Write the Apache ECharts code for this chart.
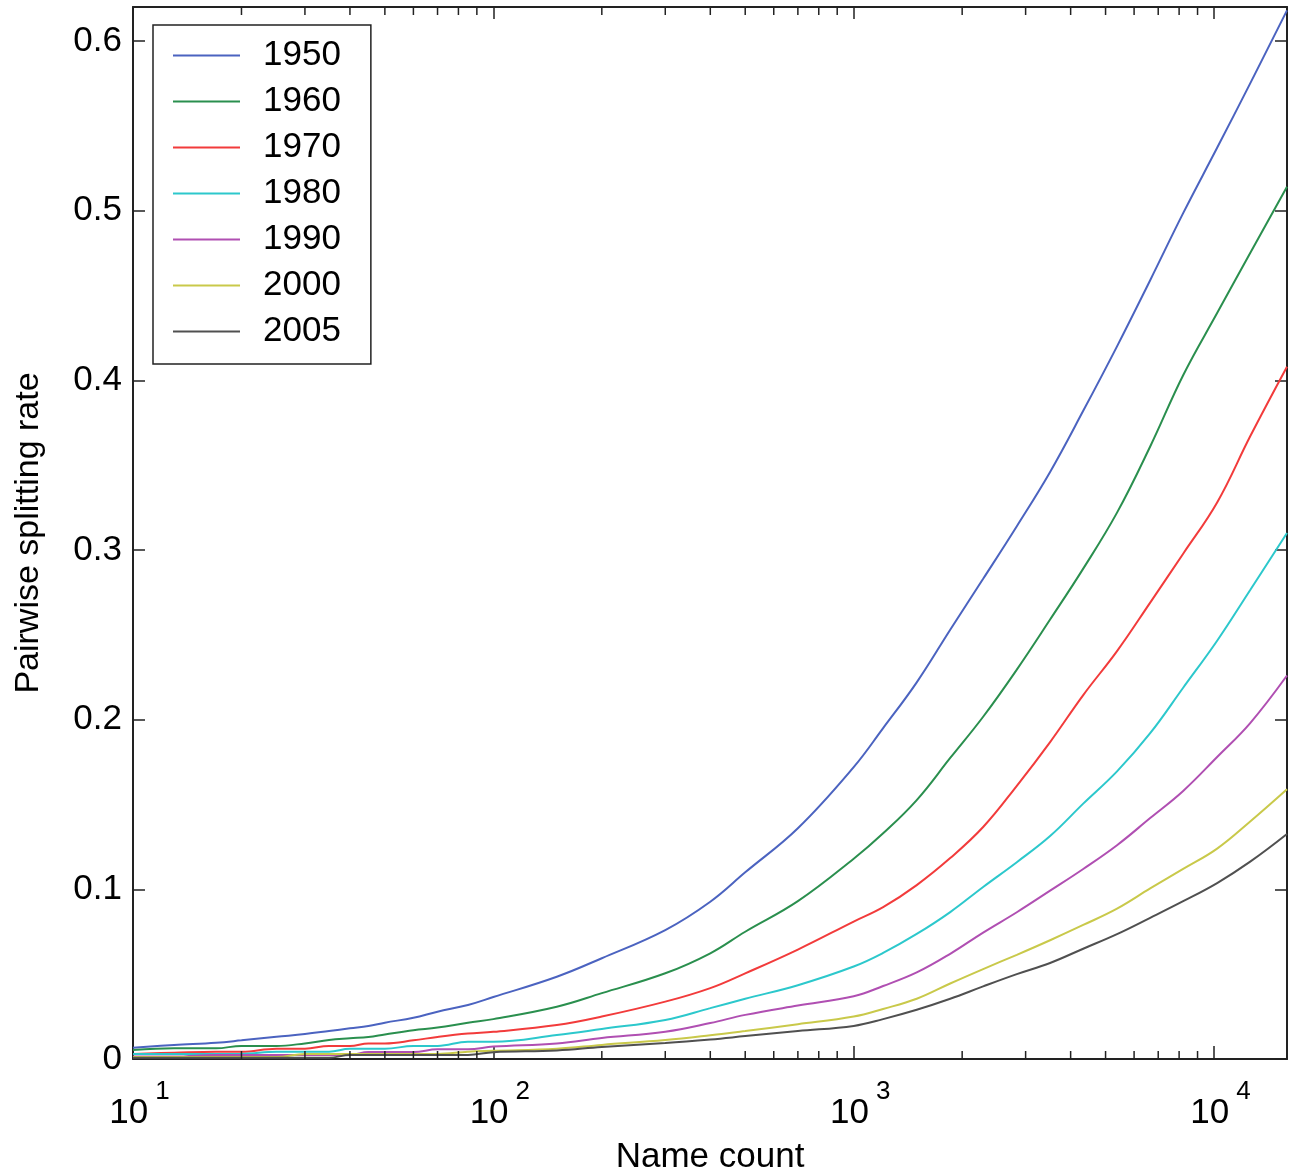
<!DOCTYPE html>
<html>
<head>
<meta charset="utf-8">
<script src="https://cdn.jsdelivr.net/npm/echarts@6/dist/echarts.min.js"></script>
<style>
html,body{margin:0;padding:0;background:#fff;}
#chart{width:1296px;height:1172px;}
</style>
</head>
<body>
<div id="chart"></div>
<script>
const nameCounts = [10, 13, 17, 20, 25, 30, 35, 40, 45, 50, 60, 70, 85, 100, 150, 200, 300, 400, 500, 700, 1000, 1207, 1496, 1853, 2287, 2836, 3508, 4335, 5380, 6650, 8210, 10200, 12600, 15940];
const rate1950 = [0.0067, 0.0083, 0.0096, 0.011, 0.0131, 0.0147, 0.0165, 0.0181, 0.0194, 0.0214, 0.0243, 0.0279, 0.0318, 0.0365, 0.0485, 0.0594, 0.076, 0.0927, 0.110, 0.136, 0.172, 0.195, 0.222, 0.253, 0.283, 0.314, 0.346, 0.382, 0.420, 0.459, 0.4985, 0.537, 0.575, 0.618];
const rate1960 = [0.0053, 0.0063, 0.0063, 0.0077, 0.0077, 0.0092, 0.0112, 0.0122, 0.013, 0.0145, 0.017, 0.0185, 0.0214, 0.0235, 0.0308, 0.0388, 0.0505, 0.0623, 0.075, 0.093, 0.118, 0.133, 0.1526, 0.1774, 0.2017, 0.2295, 0.259, 0.289, 0.322, 0.361, 0.403, 0.4396, 0.475, 0.514];
const rate1970 = [0.003, 0.0037, 0.0043, 0.0043, 0.0061, 0.0061, 0.0077, 0.0077, 0.0092, 0.0092, 0.011, 0.013, 0.015, 0.016, 0.020, 0.025, 0.0338, 0.0418, 0.0505, 0.0645, 0.081, 0.0895, 0.1025, 0.1184, 0.1367, 0.161, 0.1868, 0.2145, 0.2404, 0.269, 0.2978, 0.328, 0.367, 0.408];
const rate1980 = [0.003, 0.003, 0.003, 0.003, 0.0043, 0.0043, 0.0043, 0.006, 0.006, 0.006, 0.0077, 0.0077, 0.0102, 0.0102, 0.0141, 0.0177, 0.023, 0.030, 0.0355, 0.0435, 0.0545, 0.0625, 0.0737, 0.0866, 0.1014, 0.116, 0.1314, 0.1505, 0.1695, 0.192, 0.2188, 0.2465, 0.2764, 0.310];
const rate1990 = [0.0014, 0.0014, 0.0024, 0.0024, 0.0024, 0.0024, 0.0024, 0.0024, 0.0041, 0.0041, 0.0041, 0.0057, 0.0057, 0.0073, 0.0092, 0.0124, 0.0161, 0.0212, 0.026, 0.0315, 0.037, 0.043, 0.051, 0.062, 0.0745, 0.0865, 0.0992, 0.112, 0.126, 0.142, 0.158, 0.178, 0.198, 0.226];
const rate2000 = [0.0012, 0.0012, 0.0012, 0.0012, 0.0012, 0.003, 0.003, 0.003, 0.003, 0.003, 0.003, 0.003, 0.0043, 0.0048, 0.006, 0.0083, 0.0112, 0.014, 0.0165, 0.0205, 0.025, 0.0295, 0.0355, 0.0445, 0.053, 0.0614, 0.070, 0.079, 0.0886, 0.1005, 0.112, 0.124, 0.140, 0.159];
const rate2005 = [0.0007, 0.0007, 0.0007, 0.0007, 0.0007, 0.0007, 0.0007, 0.0024, 0.0024, 0.0024, 0.0024, 0.0024, 0.0024, 0.004, 0.005, 0.0071, 0.0094, 0.0115, 0.0135, 0.0165, 0.0195, 0.0235, 0.029, 0.0355, 0.0428, 0.050, 0.0566, 0.065, 0.0736, 0.0832, 0.093, 0.1037, 0.1163, 0.1326];

const seriesNames = ['1950', '1960', '1970', '1980', '1990', '2000', '2005'];
const seriesValues = [rate1950, rate1960, rate1970, rate1980, rate1990, rate2000, rate2005];
const seriesColors = ['#4b63c0', '#2a8f4e', '#f23b3b', '#2cc8cc', '#b04fb2', '#c9c94a', '#505050'];
const minorTickValues = [20, 30, 40, 50, 60, 70, 80, 90, 200, 300, 400, 500, 600, 700, 800, 900, 2000, 3000, 4000, 5000, 6000, 7000, 8000, 9000];
const yTicks = [0, 0.1, 0.2, 0.3, 0.4, 0.5, 0.6];

const xMin = 10, xMax = 15940, yMin = 0, yMax = 0.62;
const FONT = "'Liberation Sans', Arial, Helvetica, sans-serif";
const AX = '#222';

const chart = echarts.init(document.getElementById('chart'), null, {renderer: 'canvas'});

const lineSeries = seriesNames.map((n, i) => ({
  name: n,
  type: 'line',
  xAxisIndex: 0, yAxisIndex: 0,
  showSymbol: false, symbol: 'none',
  smooth: 0.4,
  lineStyle: {width: 2, color: seriesColors[i]},
  itemStyle: {color: seriesColors[i]},
  data: nameCounts.map((x, j) => [x, seriesValues[i][j]]),
  animation: false,
  z: 3
}));

const minorTickSeries = {
  type: 'custom',
  xAxisIndex: 0, yAxisIndex: 0,
  silent: true,
  clip: false,
  animation: false,
  z: 4,
  data: minorTickValues.map(v => [v, yMin]),
  renderItem: function (params, api) {
    const v = api.value(0);
    const b = api.coord([v, yMin]);
    const t = api.coord([v, yMax]);
    const st = {stroke: AX, lineWidth: 1.5};
    return {type: 'group', children: [
      {type: 'line', shape: {x1: b[0], y1: b[1], x2: b[0], y2: b[1] - 8}, style: st},
      {type: 'line', shape: {x1: t[0], y1: t[1], x2: t[0], y2: t[1] + 8}, style: st}
    ]};
  }
};

function isDecade(v) {
  const e = Math.log10(v);
  return Math.abs(e - Math.round(e)) < 1e-6;
}

const option = {
  backgroundColor: '#fff',
  animation: false,
  textStyle: {fontFamily: FONT, color: '#000'},
  grid: {left: 133, right: 9, top: 7, bottom: 113, containLabel: false, outerBoundsMode: 'none'},
  legend: {
    data: seriesNames.map(n => ({name: n, icon: 'rect'})),
    orient: 'vertical',
    left: 153, top: 25,
    padding: [13, 30, 15, 20],
    itemGap: 11,
    itemWidth: 67, itemHeight: 2,
    borderColor: AX, borderWidth: 1.5,
    backgroundColor: '#fff',
    textStyle: {fontFamily: FONT, fontSize: 35, color: '#000', lineHeight: 34, padding: [0, 0, 0, 18]},
    selectedMode: false
  },
  xAxis: [{
    type: 'log', logBase: 10, min: xMin, max: xMax,
    position: 'bottom',
    name: 'Name count', nameLocation: 'middle', nameGap: 81,
    nameTextStyle: {fontFamily: FONT, fontSize: 35, color: '#000'},
    axisLine: {show: true, onZero: false, lineStyle: {color: AX, width: 2}},
    axisTick: {show: true, inside: true, length: 13, lineStyle: {color: AX, width: 1.5}},
    minorTick: {show: false},
    splitLine: {show: false},
    axisLabel: {
      show: true, margin: 20, showMaxLabel: false, showMinLabel: true,
      formatter: function (v) {
        if (!isDecade(v)) return '';
        return '{p| }{b|10}{s|' + Math.round(Math.log10(v)) + '}';
      },
      rich: {
        p: {width: 13, fontSize: 35, fontFamily: FONT},
        b: {fontSize: 35, lineHeight: 52, verticalAlign: 'bottom', fontFamily: FONT, color: '#000'},
        s: {fontSize: 26, lineHeight: 26, verticalAlign: 'top', padding: [0, 0, 0, 7], fontFamily: FONT, color: '#000'}
      }
    }
  }, {
    type: 'log', logBase: 10, min: xMin, max: xMax,
    position: 'top',
    axisLine: {show: true, onZero: false, lineStyle: {color: AX, width: 2}},
    axisTick: {show: true, inside: true, length: 12, lineStyle: {color: AX, width: 1.5}},
    axisLabel: {show: false},
    splitLine: {show: false}
  }],
  yAxis: [{
    type: 'value', min: yMin, max: yMax, interval: 0.1,
    position: 'left',
    name: 'Pairwise splitting rate', nameLocation: 'middle', nameGap: 87,
    nameTextStyle: {fontFamily: FONT, fontSize: 34, color: '#000'},
    axisLine: {show: true, onZero: false, lineStyle: {color: AX, width: 2}},
    axisTick: {show: true, inside: true, length: 12, lineStyle: {color: AX, width: 1.5}},
    splitLine: {show: false},
    axisLabel: {
      show: true, margin: 11, fontSize: 35, fontFamily: FONT, color: '#000', showMaxLabel: false,
      formatter: function (v) {
        for (const t of yTicks) {
          if (Math.abs(v - t) < 1e-9) return t === 0 ? '0' : t.toFixed(1);
        }
        return '';
      }
    }
  }, {
    type: 'value', min: yMin, max: yMax, interval: 0.1,
    position: 'right',
    axisLine: {show: true, onZero: false, lineStyle: {color: AX, width: 2}},
    axisTick: {show: true, inside: true, length: 12, lineStyle: {color: AX, width: 1.5}},
    splitLine: {show: false},
    axisLabel: {show: false}
  }],
  series: lineSeries.concat([minorTickSeries])
};

chart.setOption(option);
</script>
</body>
</html>
